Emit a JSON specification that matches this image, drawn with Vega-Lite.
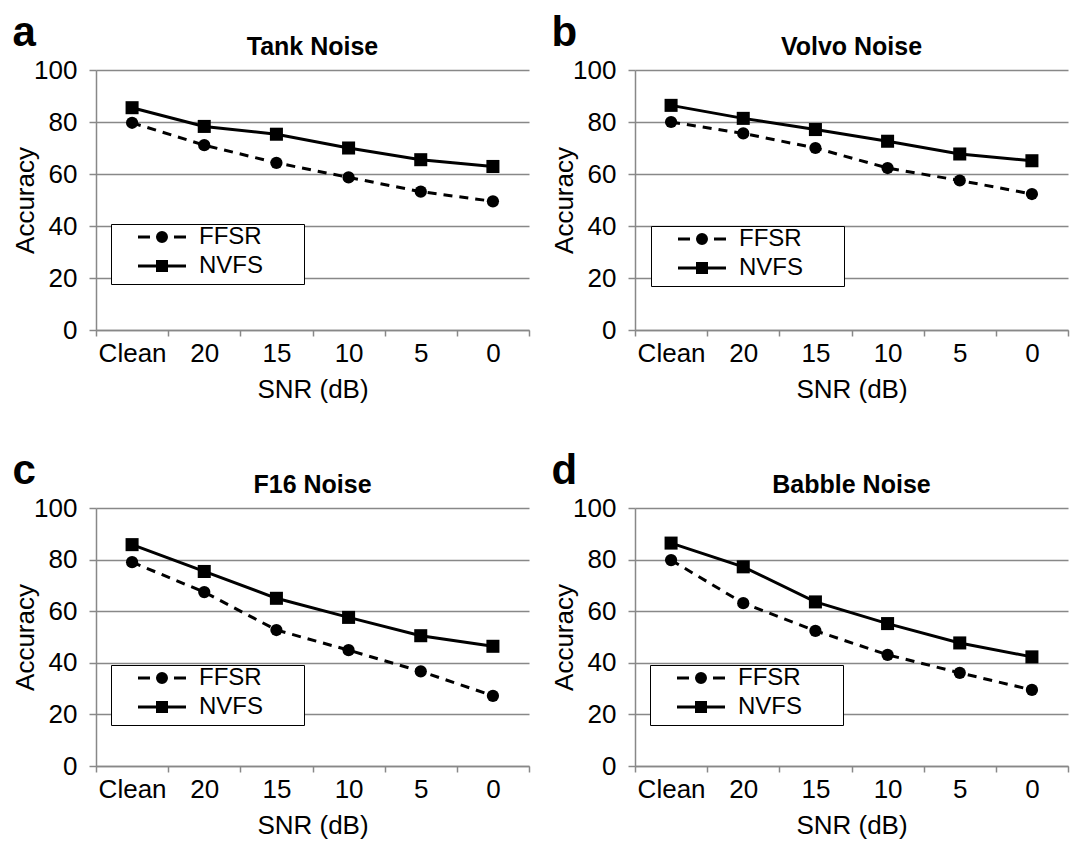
{
  "$schema": "https://vega.github.io/schema/vega-lite/v6.json",
  "padding": {"left": 12, "top": 12, "right": 2, "bottom": 2},
  "config": {
    "font": "Liberation Sans",
    "view": {"stroke": null},
    "axis": {"domainColor": "#888888", "domainWidth": 1.5, "tickColor": "#888888", "tickWidth": 1.5, "gridColor": "#888888", "gridWidth": 1.5,
      "labelFontSize": 26, "labelColor": "black", "titleFontSize": 26, "titleFontWeight": "normal", "titleColor": "black"},
    "axisX": {"labelAngle": 0, "tickBand": "extent", "tickSize": 6, "labelPadding": 4, "titlePadding": 10, "grid": false},
    "axisY": {"tickSize": 7, "labelPadding": 12, "titlePadding": -5, "grid": true},
    "title": {"color": "black"},
    "legend": {"orient": "none", "title": null, "fillColor": "white", "strokeColor": "black", "padding": 1,
      "labelFontSize": 24, "labelColor": "black", "symbolSize": 100, "rowPadding": -7, "symbolOffset": 38, "labelOffset": 25,
      "symbolStrokeWidth": 3, "symbolFillColor": "black", "symbolStrokeColor": "black"}
  },
  "data": {
    "values": [
      {"panel": "a", "series": "NVFS", "snr": "Clean", "acc": 85.5},
      {"panel": "a", "series": "NVFS", "snr": "20", "acc": 78.3},
      {"panel": "a", "series": "NVFS", "snr": "15", "acc": 75.3},
      {"panel": "a", "series": "NVFS", "snr": "10", "acc": 70.0},
      {"panel": "a", "series": "NVFS", "snr": "5", "acc": 65.5},
      {"panel": "a", "series": "NVFS", "snr": "0", "acc": 62.9},
      {"panel": "a", "series": "FFSR", "snr": "Clean", "acc": 79.7},
      {"panel": "a", "series": "FFSR", "snr": "20", "acc": 71.1},
      {"panel": "a", "series": "FFSR", "snr": "15", "acc": 64.3},
      {"panel": "a", "series": "FFSR", "snr": "10", "acc": 58.7},
      {"panel": "a", "series": "FFSR", "snr": "5", "acc": 53.2},
      {"panel": "a", "series": "FFSR", "snr": "0", "acc": 49.5},
      {"panel": "b", "series": "NVFS", "snr": "Clean", "acc": 86.4},
      {"panel": "b", "series": "NVFS", "snr": "20", "acc": 81.4},
      {"panel": "b", "series": "NVFS", "snr": "15", "acc": 77.1},
      {"panel": "b", "series": "NVFS", "snr": "10", "acc": 72.6},
      {"panel": "b", "series": "NVFS", "snr": "5", "acc": 67.7},
      {"panel": "b", "series": "NVFS", "snr": "0", "acc": 65.1},
      {"panel": "b", "series": "FFSR", "snr": "Clean", "acc": 80.0},
      {"panel": "b", "series": "FFSR", "snr": "20", "acc": 75.6},
      {"panel": "b", "series": "FFSR", "snr": "15", "acc": 70.0},
      {"panel": "b", "series": "FFSR", "snr": "10", "acc": 62.3},
      {"panel": "b", "series": "FFSR", "snr": "5", "acc": 57.5},
      {"panel": "b", "series": "FFSR", "snr": "0", "acc": 52.3},
      {"panel": "c", "series": "NVFS", "snr": "Clean", "acc": 85.8},
      {"panel": "c", "series": "NVFS", "snr": "20", "acc": 75.4},
      {"panel": "c", "series": "NVFS", "snr": "15", "acc": 65.0},
      {"panel": "c", "series": "NVFS", "snr": "10", "acc": 57.6},
      {"panel": "c", "series": "NVFS", "snr": "5", "acc": 50.5},
      {"panel": "c", "series": "NVFS", "snr": "0", "acc": 46.4},
      {"panel": "c", "series": "FFSR", "snr": "Clean", "acc": 79.0},
      {"panel": "c", "series": "FFSR", "snr": "20", "acc": 67.4},
      {"panel": "c", "series": "FFSR", "snr": "15", "acc": 52.7},
      {"panel": "c", "series": "FFSR", "snr": "10", "acc": 44.9},
      {"panel": "c", "series": "FFSR", "snr": "5", "acc": 36.7},
      {"panel": "c", "series": "FFSR", "snr": "0", "acc": 27.2},
      {"panel": "d", "series": "NVFS", "snr": "Clean", "acc": 86.4},
      {"panel": "d", "series": "NVFS", "snr": "20", "acc": 77.2},
      {"panel": "d", "series": "NVFS", "snr": "15", "acc": 63.6},
      {"panel": "d", "series": "NVFS", "snr": "10", "acc": 55.2},
      {"panel": "d", "series": "NVFS", "snr": "5", "acc": 47.7},
      {"panel": "d", "series": "NVFS", "snr": "0", "acc": 42.3},
      {"panel": "d", "series": "FFSR", "snr": "Clean", "acc": 79.8},
      {"panel": "d", "series": "FFSR", "snr": "20", "acc": 63.1},
      {"panel": "d", "series": "FFSR", "snr": "15", "acc": 52.4},
      {"panel": "d", "series": "FFSR", "snr": "10", "acc": 43.1},
      {"panel": "d", "series": "FFSR", "snr": "5", "acc": 36.1},
      {"panel": "d", "series": "FFSR", "snr": "0", "acc": 29.5}
    ]
  },
  "columns": 2,
  "spacing": {"column": 21, "row": 48},
  "resolve": {"scale": {"color": "independent"}, "legend": {"color": "independent"}},
  "concat": [
    {
      "title": {"text": "a", "anchor": "start", "fontSize": 42, "fontWeight": "bold", "offset": -20},
      "resolve": {"scale": {"color": "independent"}, "legend": {"color": "independent"}},
      "vconcat": [
        {
          "title": {"text": "Tank Noise", "fontSize": 25, "fontWeight": "bold", "anchor": "middle", "frame": "group", "offset": -3},
          "width": 433, "height": 260,
          "transform": [{"filter": "datum.panel === 'a'"}],
          "encoding": {
            "x": {"field": "snr", "type": "nominal", "sort": ["Clean", "20", "15", "10", "5", "0"], "bandPosition": 0.5,
              "scale": {"type": "band", "paddingInner": 0, "paddingOuter": 0}, "axis": {"title": "SNR (dB)"}},
            "y": {"field": "acc", "type": "quantitative", "scale": {"domain": [0, 100], "nice": false},
              "axis": {"title": "Accuracy", "values": [0, 20, 40, 60, 80, 100]}}
          },
          "layer": [
            {"transform": [{"filter": "datum.series === 'FFSR'"}], "mark": {"type": "line", "color": "black", "strokeWidth": 3, "strokeDash": [9, 7]}, "encoding": {}},
            {"transform": [{"filter": "datum.series === 'NVFS'"}], "mark": {"type": "line", "color": "black", "strokeWidth": 3}, "encoding": {}},
            {"transform": [{"filter": "datum.series === 'NVFS'"}], "mark": {"type": "square", "filled": true, "color": "black", "size": 170, "opacity": 1}, "encoding": {}},
            {"transform": [{"filter": "datum.series === 'FFSR'"}], "mark": {"type": "circle", "color": "black", "size": 150, "opacity": 1},
              "encoding": {"color": {"field": "series", "type": "nominal", "scale": {"domain": ["FFSR", "NVFS"], "range": ["black", "black"]},
                "legend": {"legendX": 15, "legendY": 154,
                  "symbolType": {"expr": "datum.value === 'FFSR' ? 'M-9.7,-2.1M26.9,2.1M-4.8,0L-2.4,0M2.4,0L4.8,0M-0.9,0A0.9,0.9,0,1,1,0.9,0A0.9,0.9,0,1,1,-0.9,0Z' : 'M-9.7,-2.1M26.9,2.1M-4.8,0L4.8,0M-0.9,-0.9L0.9,-0.9L0.9,0.9L-0.9,0.9Z'"},
                  "encode": {
                    "legend": {"strokeWidth": {"value": 2}},
                    "symbols": {"shape": {"value": {"expr": "datum.value === 'FFSR' ? 'M-9.7,-2.1M26.9,2.1M-4.8,0L-2.4,0M2.4,0L4.8,0M-0.9,0A0.9,0.9,0,1,1,0.9,0A0.9,0.9,0,1,1,-0.9,0Z' : 'M-9.7,-2.1M26.9,2.1M-4.8,0L4.8,0M-0.9,-0.9L0.9,-0.9L0.9,0.9L-0.9,0.9Z'"}}, "stroke": {"value": "black"}, "strokeWidth": {"value": 3}}
                  }}}}}
          ]
        }
      ]
    },
    {
      "title": {"text": "b", "anchor": "start", "fontSize": 42, "fontWeight": "bold", "offset": -20},
      "resolve": {"scale": {"color": "independent"}, "legend": {"color": "independent"}},
      "vconcat": [
        {
          "title": {"text": "Volvo Noise", "fontSize": 25, "fontWeight": "bold", "anchor": "middle", "frame": "group", "offset": -3},
          "width": 433, "height": 260,
          "transform": [{"filter": "datum.panel === 'b'"}],
          "encoding": {
            "x": {"field": "snr", "type": "nominal", "sort": ["Clean", "20", "15", "10", "5", "0"], "bandPosition": 0.5,
              "scale": {"type": "band", "paddingInner": 0, "paddingOuter": 0}, "axis": {"title": "SNR (dB)"}},
            "y": {"field": "acc", "type": "quantitative", "scale": {"domain": [0, 100], "nice": false},
              "axis": {"title": "Accuracy", "values": [0, 20, 40, 60, 80, 100]}}
          },
          "layer": [
            {"transform": [{"filter": "datum.series === 'FFSR'"}], "mark": {"type": "line", "color": "black", "strokeWidth": 3, "strokeDash": [9, 7]}, "encoding": {}},
            {"transform": [{"filter": "datum.series === 'NVFS'"}], "mark": {"type": "line", "color": "black", "strokeWidth": 3}, "encoding": {}},
            {"transform": [{"filter": "datum.series === 'NVFS'"}], "mark": {"type": "square", "filled": true, "color": "black", "size": 170, "opacity": 1}, "encoding": {}},
            {"transform": [{"filter": "datum.series === 'FFSR'"}], "mark": {"type": "circle", "color": "black", "size": 150, "opacity": 1},
              "encoding": {"color": {"field": "series", "type": "nominal", "scale": {"domain": ["FFSR", "NVFS"], "range": ["black", "black"]},
                "legend": {"legendX": 16, "legendY": 156,
                  "symbolType": {"expr": "datum.value === 'FFSR' ? 'M-9.7,-2.1M26.9,2.1M-4.8,0L-2.4,0M2.4,0L4.8,0M-0.9,0A0.9,0.9,0,1,1,0.9,0A0.9,0.9,0,1,1,-0.9,0Z' : 'M-9.7,-2.1M26.9,2.1M-4.8,0L4.8,0M-0.9,-0.9L0.9,-0.9L0.9,0.9L-0.9,0.9Z'"},
                  "encode": {
                    "legend": {"strokeWidth": {"value": 2}},
                    "symbols": {"shape": {"value": {"expr": "datum.value === 'FFSR' ? 'M-9.7,-2.1M26.9,2.1M-4.8,0L-2.4,0M2.4,0L4.8,0M-0.9,0A0.9,0.9,0,1,1,0.9,0A0.9,0.9,0,1,1,-0.9,0Z' : 'M-9.7,-2.1M26.9,2.1M-4.8,0L4.8,0M-0.9,-0.9L0.9,-0.9L0.9,0.9L-0.9,0.9Z'"}}, "stroke": {"value": "black"}, "strokeWidth": {"value": 3}}
                  }}}}}
          ]
        }
      ]
    },
    {
      "title": {"text": "c", "anchor": "start", "fontSize": 42, "fontWeight": "bold", "offset": -20},
      "resolve": {"scale": {"color": "independent"}, "legend": {"color": "independent"}},
      "vconcat": [
        {
          "title": {"text": "F16 Noise", "fontSize": 25, "fontWeight": "bold", "anchor": "middle", "frame": "group", "offset": -3},
          "width": 433, "height": 258,
          "transform": [{"filter": "datum.panel === 'c'"}],
          "encoding": {
            "x": {"field": "snr", "type": "nominal", "sort": ["Clean", "20", "15", "10", "5", "0"], "bandPosition": 0.5,
              "scale": {"type": "band", "paddingInner": 0, "paddingOuter": 0}, "axis": {"title": "SNR (dB)"}},
            "y": {"field": "acc", "type": "quantitative", "scale": {"domain": [0, 100], "nice": false},
              "axis": {"title": "Accuracy", "values": [0, 20, 40, 60, 80, 100]}}
          },
          "layer": [
            {"transform": [{"filter": "datum.series === 'FFSR'"}], "mark": {"type": "line", "color": "black", "strokeWidth": 3, "strokeDash": [9, 7]}, "encoding": {}},
            {"transform": [{"filter": "datum.series === 'NVFS'"}], "mark": {"type": "line", "color": "black", "strokeWidth": 3}, "encoding": {}},
            {"transform": [{"filter": "datum.series === 'NVFS'"}], "mark": {"type": "square", "filled": true, "color": "black", "size": 170, "opacity": 1}, "encoding": {}},
            {"transform": [{"filter": "datum.series === 'FFSR'"}], "mark": {"type": "circle", "color": "black", "size": 150, "opacity": 1},
              "encoding": {"color": {"field": "series", "type": "nominal", "scale": {"domain": ["FFSR", "NVFS"], "range": ["black", "black"]},
                "legend": {"legendX": 15, "legendY": 157,
                  "symbolType": {"expr": "datum.value === 'FFSR' ? 'M-9.7,-2.1M26.9,2.1M-4.8,0L-2.4,0M2.4,0L4.8,0M-0.9,0A0.9,0.9,0,1,1,0.9,0A0.9,0.9,0,1,1,-0.9,0Z' : 'M-9.7,-2.1M26.9,2.1M-4.8,0L4.8,0M-0.9,-0.9L0.9,-0.9L0.9,0.9L-0.9,0.9Z'"},
                  "encode": {
                    "legend": {"strokeWidth": {"value": 2}},
                    "symbols": {"shape": {"value": {"expr": "datum.value === 'FFSR' ? 'M-9.7,-2.1M26.9,2.1M-4.8,0L-2.4,0M2.4,0L4.8,0M-0.9,0A0.9,0.9,0,1,1,0.9,0A0.9,0.9,0,1,1,-0.9,0Z' : 'M-9.7,-2.1M26.9,2.1M-4.8,0L4.8,0M-0.9,-0.9L0.9,-0.9L0.9,0.9L-0.9,0.9Z'"}}, "stroke": {"value": "black"}, "strokeWidth": {"value": 3}}
                  }}}}}
          ]
        }
      ]
    },
    {
      "title": {"text": "d", "anchor": "start", "fontSize": 42, "fontWeight": "bold", "offset": -20},
      "resolve": {"scale": {"color": "independent"}, "legend": {"color": "independent"}},
      "vconcat": [
        {
          "title": {"text": "Babble Noise", "fontSize": 25, "fontWeight": "bold", "anchor": "middle", "frame": "group", "offset": -3},
          "width": 433, "height": 258,
          "transform": [{"filter": "datum.panel === 'd'"}],
          "encoding": {
            "x": {"field": "snr", "type": "nominal", "sort": ["Clean", "20", "15", "10", "5", "0"], "bandPosition": 0.5,
              "scale": {"type": "band", "paddingInner": 0, "paddingOuter": 0}, "axis": {"title": "SNR (dB)"}},
            "y": {"field": "acc", "type": "quantitative", "scale": {"domain": [0, 100], "nice": false},
              "axis": {"title": "Accuracy", "values": [0, 20, 40, 60, 80, 100]}}
          },
          "layer": [
            {"transform": [{"filter": "datum.series === 'FFSR'"}], "mark": {"type": "line", "color": "black", "strokeWidth": 3, "strokeDash": [9, 7]}, "encoding": {}},
            {"transform": [{"filter": "datum.series === 'NVFS'"}], "mark": {"type": "line", "color": "black", "strokeWidth": 3}, "encoding": {}},
            {"transform": [{"filter": "datum.series === 'NVFS'"}], "mark": {"type": "square", "filled": true, "color": "black", "size": 170, "opacity": 1}, "encoding": {}},
            {"transform": [{"filter": "datum.series === 'FFSR'"}], "mark": {"type": "circle", "color": "black", "size": 150, "opacity": 1},
              "encoding": {"color": {"field": "series", "type": "nominal", "scale": {"domain": ["FFSR", "NVFS"], "range": ["black", "black"]},
                "legend": {"legendX": 15, "legendY": 157,
                  "symbolType": {"expr": "datum.value === 'FFSR' ? 'M-9.7,-2.1M26.9,2.1M-4.8,0L-2.4,0M2.4,0L4.8,0M-0.9,0A0.9,0.9,0,1,1,0.9,0A0.9,0.9,0,1,1,-0.9,0Z' : 'M-9.7,-2.1M26.9,2.1M-4.8,0L4.8,0M-0.9,-0.9L0.9,-0.9L0.9,0.9L-0.9,0.9Z'"},
                  "encode": {
                    "legend": {"strokeWidth": {"value": 2}},
                    "symbols": {"shape": {"value": {"expr": "datum.value === 'FFSR' ? 'M-9.7,-2.1M26.9,2.1M-4.8,0L-2.4,0M2.4,0L4.8,0M-0.9,0A0.9,0.9,0,1,1,0.9,0A0.9,0.9,0,1,1,-0.9,0Z' : 'M-9.7,-2.1M26.9,2.1M-4.8,0L4.8,0M-0.9,-0.9L0.9,-0.9L0.9,0.9L-0.9,0.9Z'"}}, "stroke": {"value": "black"}, "strokeWidth": {"value": 3}}
                  }}}}}
          ]
        }
      ]
    }
  ]
}
